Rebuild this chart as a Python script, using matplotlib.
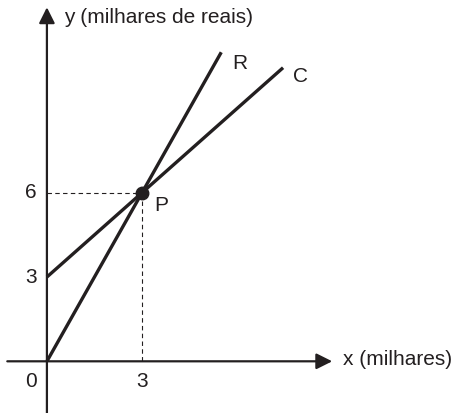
import matplotlib.pyplot as plt

# Lines R and C (thousands), intersection P
r_x = [0, 5.5]
r_y = [0, 11]
c_x = [0, 7.45]
c_y = [3, 10.45]
p_x, p_y = 3, 6
y_ticks = [3, 6]
x_ticks = [0, 3]

ink = '#231f20'
plt.rcParams['font.family'] = ['Liberation Sans', 'DejaVu Sans']

fig = plt.figure(figsize=(4.59, 4.13), dpi=100)
ax = fig.add_axes([0, 0, 1, 1])
ax.set_xlim(-1.48, 13.0)
ax.set_ylim(-1.84, 12.86)
ax.axis('off')

# axes with arrows
ax.annotate('', xy=(9.0, 0), xytext=(-1.25, 0),
            arrowprops=dict(arrowstyle='-|>', mutation_scale=24, lw=1.6, color=ink,
                            shrinkA=0, shrinkB=0))
ax.annotate('', xy=(0, 12.6), xytext=(0, -1.84),
            arrowprops=dict(arrowstyle='-|>', mutation_scale=24, lw=1.6, color=ink,
                            shrinkA=0, shrinkB=0))

# guide lines to P
ax.plot([0, p_x], [p_y, p_y], ls=(0, (4, 3)), lw=0.8, color=ink)
ax.plot([p_x, p_x], [0, p_y], ls=(0, (4, 3)), lw=0.8, color=ink)

ax.plot(r_x, r_y, lw=2.4, color=ink, solid_capstyle='butt')
ax.plot(c_x, c_y, lw=2.4, color=ink, solid_capstyle='butt')
ax.plot(p_x, p_y, 'o', ms=9, color=ink)

fs = 15
for v in y_ticks:
    ax.text(-0.32, v, str(v), fontsize=fs, ha='right', va='center', color=ink)
for v in x_ticks:
    ax.text(v - (0.32 if v == 0 else 0), -0.72, str(v), fontsize=fs,
            ha='right' if v == 0 else 'center', va='center', color=ink)

ax.text(p_x + 0.4, p_y - 0.45, 'P', fontsize=fs, ha='left', va='center', color=ink)
ax.text(r_x[1] + 0.35, r_y[1] - 0.4, 'R', fontsize=fs, ha='left', va='center', color=ink)
ax.text(c_x[1] + 0.3, c_y[1] - 0.3, 'C', fontsize=fs, ha='left', va='center', color=ink)

ax.text(0.55, 12.25, 'y (milhares de reais)', fontsize=fs, ha='left', va='center', color=ink)
ax.text(9.35, 0.05, 'x (milhares)', fontsize=fs, ha='left', va='center', color=ink)

fig.savefig('out.png', dpi=100, facecolor='white')
